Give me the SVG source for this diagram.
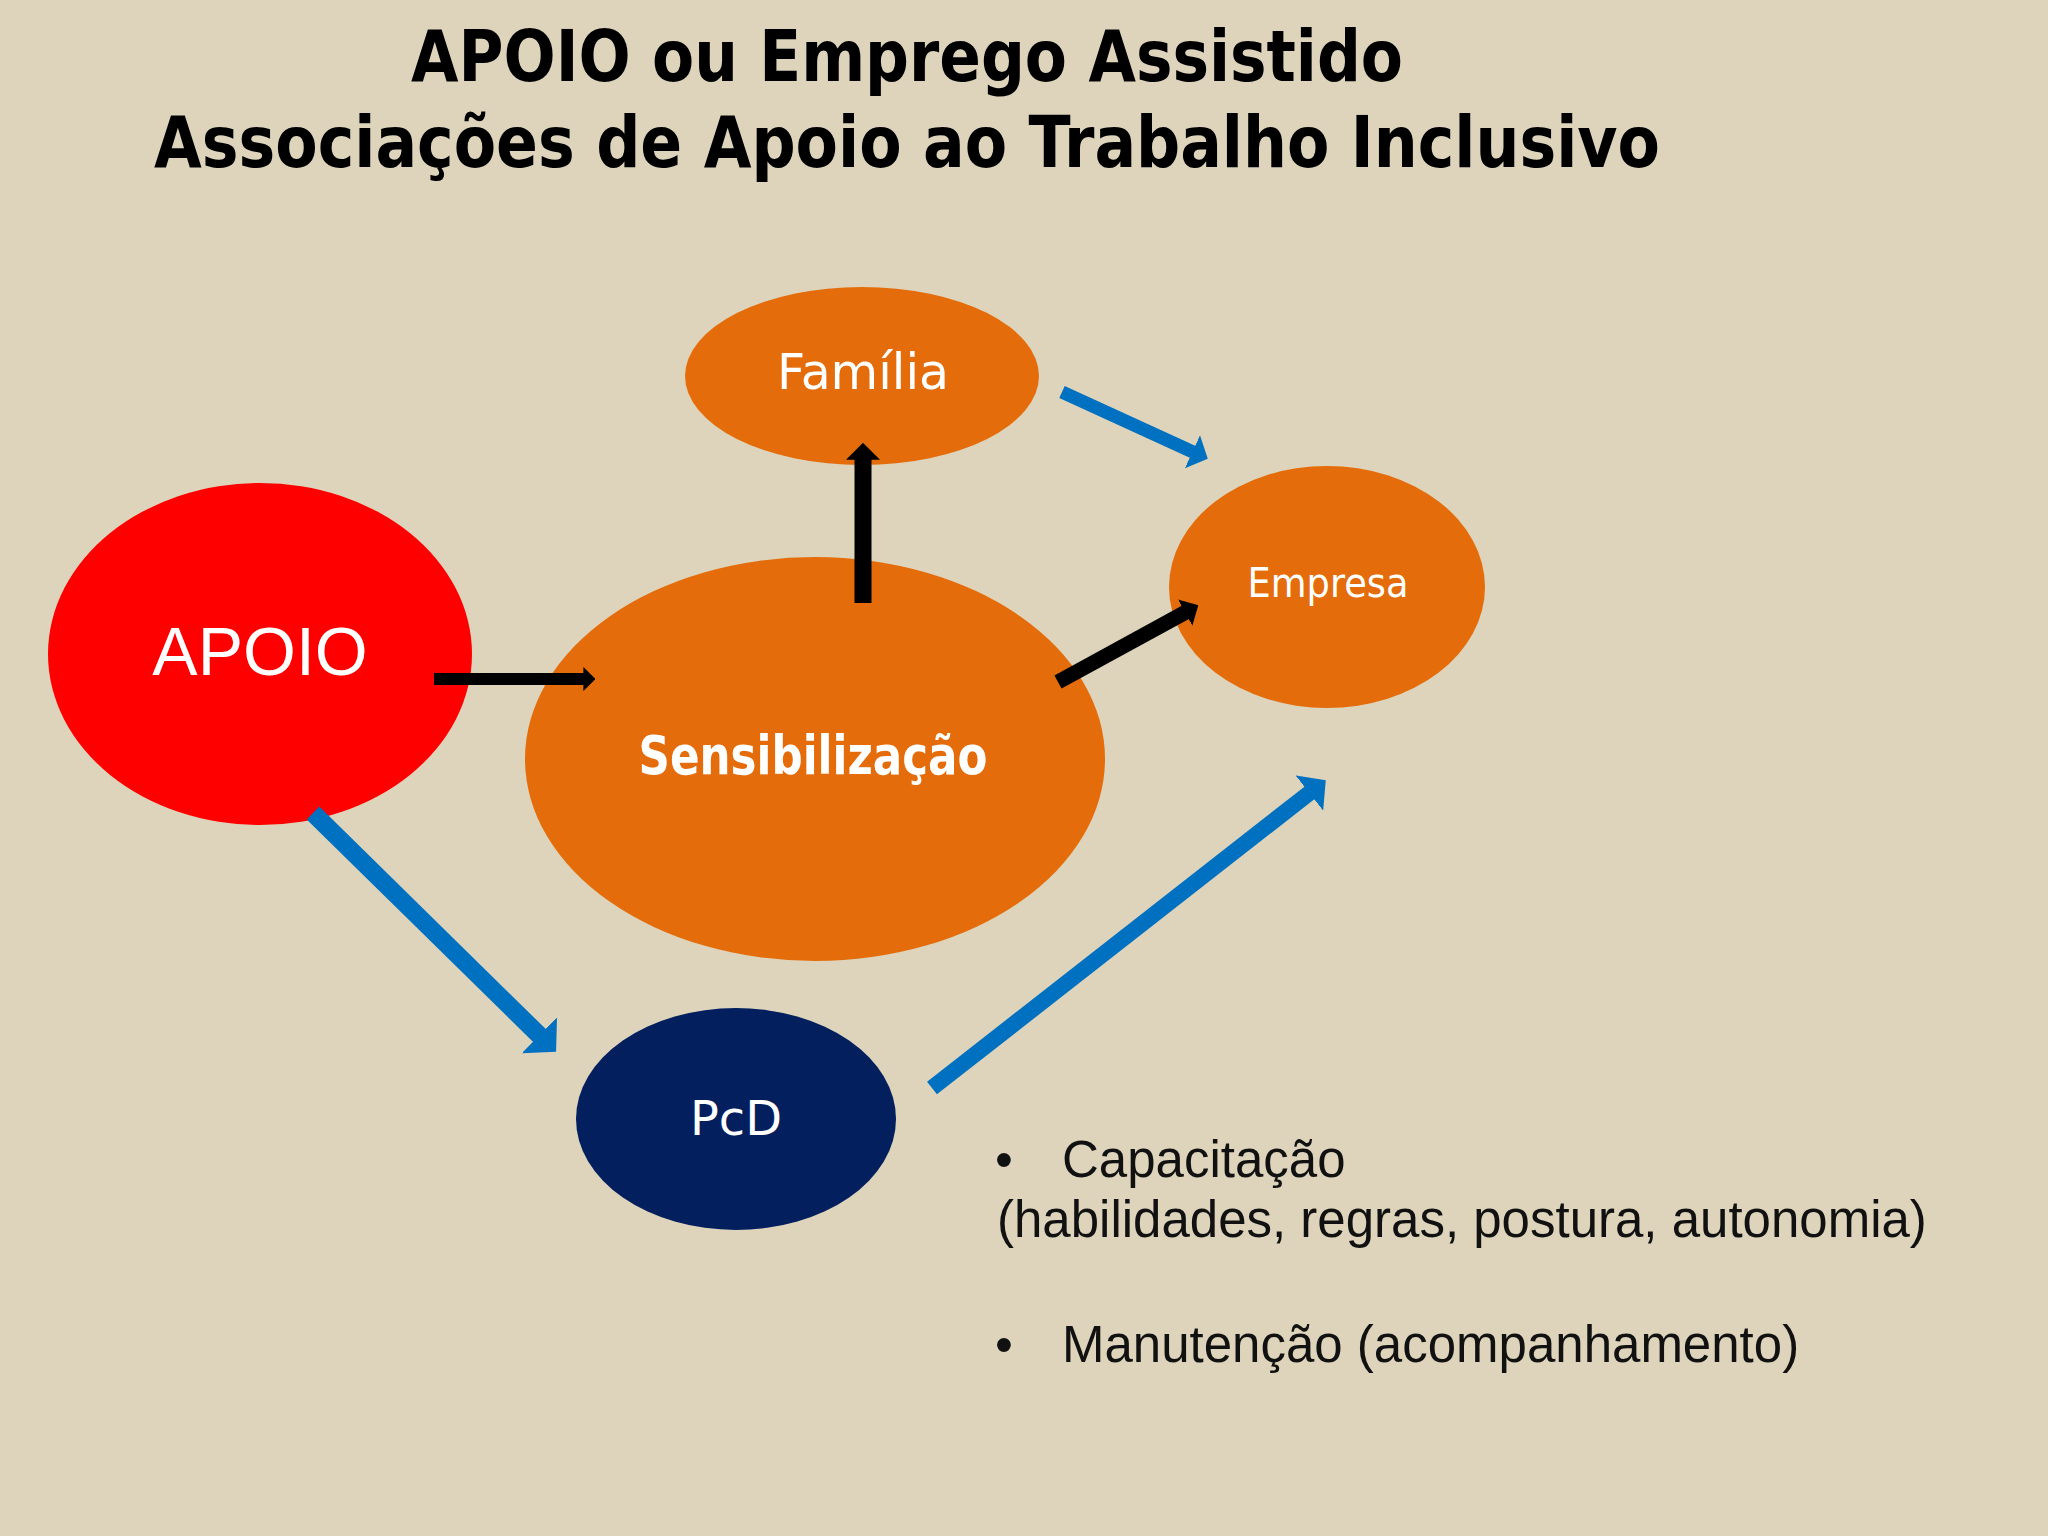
<svg xmlns="http://www.w3.org/2000/svg" width="2048" height="1536" viewBox="0 0 2048 1536">
<defs>
<style>
.title{font-family:"DejaVu Sans","Liberation Sans",sans-serif;font-weight:bold;font-size:72px;fill:#000}
.nodeText{font-family:"DejaVu Sans","Liberation Sans",sans-serif;fill:#fff;text-anchor:middle}
.orange{fill:#E46C0A}
.bullet{font-family:"Liberation Sans",Arial,sans-serif;font-size:51px;fill:#111}
.blk{stroke:#000;fill:none;marker-end:url(#headBlack)}
.blu{stroke:#0070C0;fill:none;marker-end:url(#headBlue)}
</style>
<marker id="headBlack" viewBox="0 0 1 2" markerUnits="strokeWidth" markerWidth="1" markerHeight="2" refX="0.05" refY="1" orient="auto">
<path d="M0,0 L1,1 L0,2 Z" fill="#000"/>
</marker>
<marker id="headBlue" viewBox="0 0 1.3 2.8" markerUnits="strokeWidth" markerWidth="1.3" markerHeight="2.8" refX="0.05" refY="1.4" orient="auto">
<path d="M0,0 L1.3,1.4 L0,2.8 Z" fill="#0070C0"/>
</marker>
</defs>
<rect x="0" y="0" width="2048" height="1536" fill="#DDD4BB"/>
<g id="title">
<text class="title" x="411" y="81" textLength="992" lengthAdjust="spacingAndGlyphs">APOIO ou Emprego Assistido</text>
<text class="title" x="154" y="167" textLength="1506" lengthAdjust="spacingAndGlyphs">Associações de Apoio ao Trabalho Inclusivo</text>
</g>
<g id="node-familia">
<ellipse class="orange" cx="862" cy="376" rx="177" ry="89"/>
<text class="nodeText" x="863" y="389" font-size="50" textLength="172" lengthAdjust="spacingAndGlyphs">Família</text>
</g>
<g id="node-empresa">
<ellipse class="orange" cx="1327" cy="587" rx="158" ry="121"/>
<text class="nodeText" x="1328" y="597" font-size="40" textLength="161" lengthAdjust="spacingAndGlyphs">Empresa</text>
</g>
<g id="node-apoio">
<ellipse cx="260" cy="654" rx="212" ry="171" fill="#FF0000"/>
<text x="260" y="675" font-family="Liberation Sans, Arial, sans-serif" font-size="68" fill="#fff" text-anchor="middle">APOIO</text>
</g>
<g id="node-sensibilizacao">
<ellipse class="orange" cx="815" cy="759" rx="290" ry="202"/>
<text class="nodeText" x="813" y="774" font-size="54" font-weight="bold" textLength="349" lengthAdjust="spacingAndGlyphs">Sensibilização</text>
</g>
<g id="node-pcd">
<ellipse cx="736" cy="1119" rx="160" ry="111" fill="#031F5E"/>
<text class="nodeText" x="736" y="1135" font-size="48" textLength="92" lengthAdjust="spacingAndGlyphs">PcD</text>
</g>
<g id="connectors">
<line class="blk" x1="434" y1="679" x2="584" y2="679" stroke-width="12"/>
<line class="blk" x1="863" y1="603" x2="863" y2="459" stroke-width="17"/>
<line class="blk" x1="1058" y1="682" x2="1185.8" y2="612.2" stroke-width="15"/>
<line class="blu" x1="1062" y1="392" x2="1193" y2="452" stroke-width="13"/>
<line class="blu" x1="313" y1="813" x2="540" y2="1036" stroke-width="18"/>
<line class="blu" x1="932" y1="1088" x2="1310" y2="792.5" stroke-width="16"/>
</g>
<g id="bullets">
<text class="bullet" x="995" y="1177">•</text>
<text class="bullet" x="1062" y="1177">Capacitação</text>
<text class="bullet" x="997" y="1237">(habilidades, regras, postura, autonomia)</text>
<text class="bullet" x="995" y="1362">•</text>
<text class="bullet" x="1062" y="1362">Manutenção (acompanhamento)</text>
</g>
</svg>
